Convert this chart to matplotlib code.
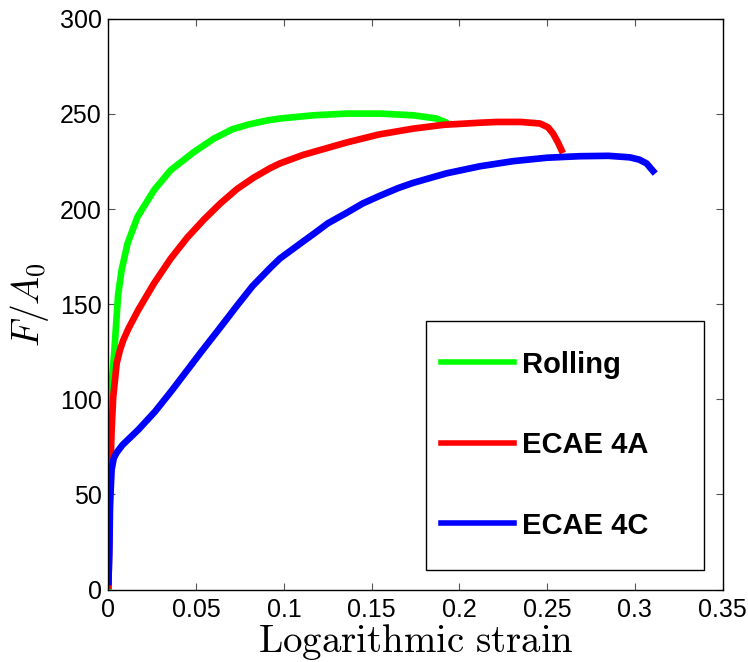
import matplotlib
matplotlib.use('Agg')
import matplotlib.pyplot as plt
from matplotlib.patches import Rectangle

# ── DATA ──
rolling_strain = [0, 0.0005, 0.001, 0.002, 0.0034, 0.0055, 0.0075, 0.0109, 0.0166, 0.026,
                  0.0355, 0.0487, 0.06, 0.0707, 0.08, 0.0899, 0.0977, 0.1167, 0.1357,
                  0.1547, 0.1737, 0.187, 0.1917]
rolling_stress = [0, 40, 80, 110, 126, 155, 168, 182, 196, 210,
                  220.5, 230, 237, 242, 244.5, 246.5, 247.6, 249.3, 250.2,
                  250.2, 249.3, 247.6, 245.8]

ecae4a_strain = [0, 0.0005, 0.001, 0.0018, 0.0027, 0.0047, 0.0066, 0.0084, 0.0113, 0.017,
                 0.026, 0.0355, 0.0449, 0.0544, 0.0638, 0.0732, 0.0827, 0.0921, 0.0977,
                 0.111, 0.1357, 0.154, 0.1737, 0.191, 0.2117, 0.2212, 0.235, 0.2459,
                 0.2505, 0.2534, 0.2562, 0.2582]
ecae4a_stress = [2, 30, 60, 84, 101, 119, 126, 131, 137, 147,
                 161, 174, 185, 194.5, 203, 210.5, 216.5, 221.5, 224,
                 228.5, 235, 239.2, 242.3, 244.3, 245.4, 245.8, 245.8, 245,
                 243, 239.7, 235, 231]

ecae4c_strain = [0, 0.0005, 0.0009, 0.0018, 0.003, 0.0047, 0.008, 0.017, 0.0265, 0.036,
                 0.0455, 0.0525, 0.0635, 0.0735, 0.0821, 0.0921, 0.0977, 0.111, 0.1167,
                 0.125, 0.1357, 0.145, 0.1547, 0.165, 0.1737, 0.1927, 0.2117, 0.2307,
                 0.25, 0.2687, 0.285, 0.2971, 0.3025, 0.3067, 0.3104]
ecae4c_stress = [4, 20, 45, 63, 69, 72, 76, 84, 93.5, 104.5,
                 116, 124.5, 137.5, 149.5, 159.5, 169, 174, 183, 186.8,
                 192.5, 198, 203, 207, 211, 213.8, 218.8, 222.5, 225.2,
                 227, 227.8, 228, 227.2, 226, 224, 220]

labels = ['Rolling', 'ECAE 4A', 'ECAE 4C']
colors = ['#00ff00', '#ff0000', '#0000ff']

x_ticks = [0, 0.05, 0.1, 0.15, 0.2, 0.25, 0.3, 0.35]
x_ticklabels = ['0', '0.05', '0.1', '0.15', '0.2', '0.25', '0.3', '0.35']
y_ticks = [0, 50, 100, 150, 200, 250, 300]

# ── FIGURE ──
plt.rcParams['font.family'] = ['Liberation Sans', 'DejaVu Sans']
plt.rcParams['mathtext.fontset'] = 'cm'

fig = plt.figure(figsize=(7.48, 6.62), dpi=100)
ax = fig.add_axes([0.145, 0.1095, 0.821, 0.862])

series = [(rolling_strain, rolling_stress),
          (ecae4a_strain, ecae4a_stress),
          (ecae4c_strain, ecae4c_stress)]
for (xs, ys), lab, col in zip(series, labels, colors):
    ax.plot(xs, ys, color=col, lw=4.8, label=lab, solid_joinstyle='round')

ax.set_xlim(0, 0.35)
ax.set_ylim(0, 300)
ax.set_xticks(x_ticks)
ax.set_xticklabels(x_ticklabels)
ax.set_yticks(y_ticks)
ax.tick_params(direction='in', top=True, right=True, length=5, width=0.8,
               color='#555555', labelsize=18)
ax.tick_params(axis='x', pad=6)
ax.tick_params(axis='y', pad=5)
for sp in ax.spines.values():
    sp.set_linewidth(1.0)

ax.set_xlabel(r'$\mathrm{Logarithmic\ strain}$', fontsize=28, labelpad=0)
ax.set_ylabel(r'$F/A_0$', fontsize=27, labelpad=6)

# legend: frame drawn as a plain box, entries placed inside it
ax.add_patch(Rectangle((0.517, 0.034), 0.4525, 0.436, transform=ax.transAxes,
                       facecolor='white', edgecolor='black', lw=1.0, zorder=4))
leg = ax.legend(loc='center left', bbox_to_anchor=(0.541, 0.253),
                frameon=False, borderaxespad=0, borderpad=0,
                prop={'weight': 'bold', 'size': 21},
                handlelength=2.5, handletextpad=0.3, labelspacing=1.8)
leg.set_zorder(5)
for ln in leg.get_lines():
    ln.set_linewidth(4)

fig.savefig('out.png', dpi=100)
